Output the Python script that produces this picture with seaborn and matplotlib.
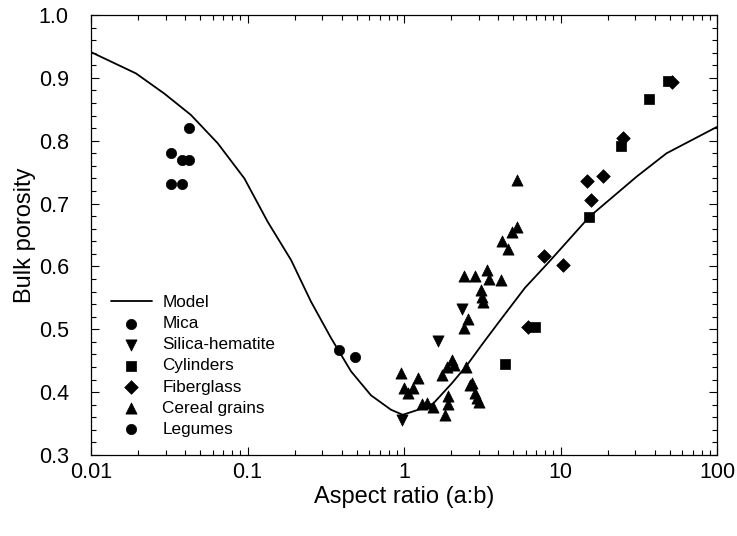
import matplotlib
matplotlib.use("Agg")
import matplotlib.pyplot as plt
import seaborn as sns
import pandas as pd
from matplotlib.ticker import LogLocator, MultipleLocator, FixedLocator, NullFormatter

# ---- data ----
model_x = [0.01, 0.0194, 0.0294, 0.0435, 0.0645, 0.0955, 0.1346, 0.190, 0.2545, 0.342,
           0.459, 0.615, 0.826, 0.982, 1.234, 1.54, 2.02, 2.51, 3.2, 4.11, 5.93, 8.36,
           15.3, 30.7, 47.6, 100]
model_y = [0.941, 0.907, 0.875, 0.841, 0.796, 0.740, 0.671, 0.610, 0.544, 0.486,
           0.433, 0.395, 0.372, 0.364, 0.372, 0.382, 0.414, 0.442, 0.478, 0.514, 0.566, 0.606,
           0.679, 0.743, 0.780, 0.822]

mica_x = [0.0425, 0.0324, 0.0383, 0.0425, 0.0324, 0.0383]
mica_y = [0.820, 0.781, 0.770, 0.770, 0.731, 0.731]

silica_x = [0.975, 1.66, 2.34]
silica_y = [0.355, 0.482, 0.532]

cyl_x = [4.42, 6.87, 15.3, 24.4, 36.9, 48.9]
cyl_y = [0.444, 0.503, 0.679, 0.792, 0.866, 0.895]

fiber_x = [6.23, 7.85, 10.3, 14.7, 15.6, 18.6, 25.2, 51.6]
fiber_y = [0.503, 0.617, 0.602, 0.736, 0.706, 0.744, 0.805, 0.893]

cereal_x = [0.957, 1.005, 1.056, 1.15, 1.234, 1.31, 1.41, 1.54, 1.83, 1.92, 1.92, 1.74,
            1.87, 2.04, 2.09, 2.48, 2.42, 2.58, 2.42, 2.84, 3.41, 3.51, 4.15, 3.09, 3.16,
            3.21, 4.21, 4.64, 4.88, 5.25, 5.25, 2.64, 2.71, 2.84, 2.94, 3.0]
cereal_y = [0.430, 0.407, 0.399, 0.407, 0.422, 0.381, 0.383, 0.376, 0.363, 0.394, 0.381, 0.427,
            0.440, 0.451, 0.443, 0.440, 0.502, 0.516, 0.585, 0.585, 0.594, 0.580, 0.578, 0.563, 0.552,
            0.544, 0.640, 0.627, 0.654, 0.663, 0.738, 0.411, 0.414, 0.398, 0.390, 0.385]

legume_x = [0.386, 0.487]
legume_y = [0.467, 0.456]

x_ticks = [0.01, 0.1, 1, 10, 100]
x_tick_labels = ["0.01", "0.1", "1", "10", "100"]
y_ticks = [0.3, 0.4, 0.5, 0.6, 0.7, 0.8, 0.9, 1.0]

# ---- plotting ----
sns.set_style("ticks")
plt.rcParams['font.family'] = ['Liberation Sans', 'DejaVu Sans']
plt.rcParams['text.color'] = 'black'
plt.rcParams['axes.labelcolor'] = 'black'

fig = plt.figure(figsize=(7.37, 5.36), dpi=100)
ax = fig.add_axes([91/737, 1-455/536, (717-91)/737, (455-15)/536])

model_df = pd.DataFrame({"x": model_x, "y": model_y})
sns.lineplot(data=model_df, x="x", y="y", ax=ax, color="black", lw=1.3,
             label="Model", sort=True, estimator=None)

groups = [
    ("Mica", mica_x, mica_y, "o", 55),
    ("Silica-hematite", silica_x, silica_y, "v", 65),
    ("Cylinders", cyl_x, cyl_y, "s", 48),
    ("Fiberglass", fiber_x, fiber_y, "D", 48),
    ("Cereal grains", cereal_x, cereal_y, "^", 65),
    ("Legumes", legume_x, legume_y, "o", 55),
]
for name, gx, gy, mk, s in groups:
    d = pd.DataFrame({"x": gx, "y": gy})
    sns.scatterplot(data=d, x="x", y="y", ax=ax, marker=mk, s=s, color="black",
                    edgecolor="black", linewidth=0.5, label=name, zorder=3)

ax.set_xscale("log")
ax.set_xlim(0.01, 100)
ax.set_ylim(0.3, 1.0)
ax.xaxis.set_major_locator(FixedLocator(x_ticks))
ax.set_xticklabels(x_tick_labels)
ax.xaxis.set_minor_locator(LogLocator(base=10, subs=range(2, 10), numticks=20))
ax.xaxis.set_minor_formatter(NullFormatter())
ax.yaxis.set_major_locator(FixedLocator(y_ticks))
ax.set_yticklabels([f"{v:.1f}" for v in y_ticks])
ax.yaxis.set_minor_locator(MultipleLocator(0.02))

ax.tick_params(which="both", direction="in", top=True, right=True, colors="black",
               labelcolor="black", labelsize=15.5, width=0.8)
ax.tick_params(which="major", length=6)
ax.tick_params(which="minor", length=3.5)
ax.tick_params(axis="x", which="major", pad=5)
ax.tick_params(axis="y", which="major", pad=16)
for sp in ax.spines.values():
    sp.set_linewidth(0.9)
    sp.set_color("black")

ax.set_xlabel("Aspect ratio (a:b)", fontsize=17, labelpad=2, color="black")
ax.set_ylabel("Bulk porosity", fontsize=17, labelpad=2, color="black")

leg = ax.legend(loc="lower left", frameon=False, fontsize=12.3, handlelength=2.4,
                handletextpad=0.6, labelspacing=0.36, borderaxespad=0.4,
                bbox_to_anchor=(0.01, 0.01))
for t in leg.get_texts():
    t.set_color("black")

fig.savefig("out.png", dpi=100)
